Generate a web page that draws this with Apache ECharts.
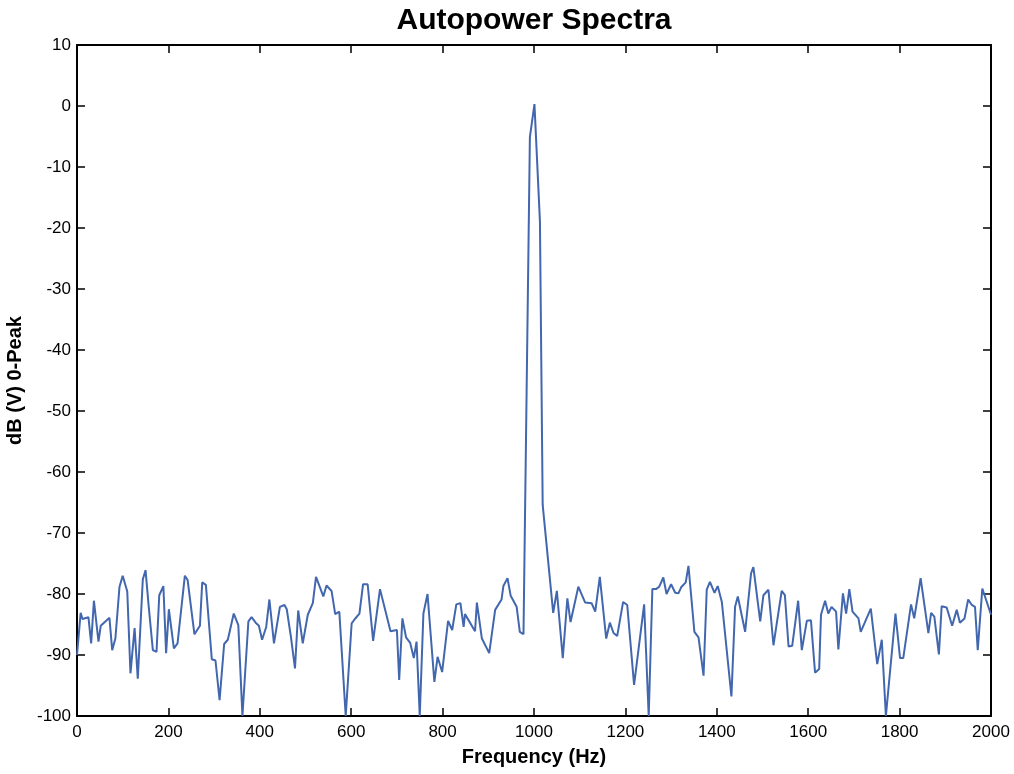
<!DOCTYPE html>
<html>
<head>
<meta charset="utf-8">
<script src="https://cdn.jsdelivr.net/npm/echarts@6/dist/echarts.min.js"></script>
<style>html,body{margin:0;padding:0;background:#fff}#chart{width:1014px;height:774px}</style>
</head>
<body>
<div id="chart"></div>
<script>
const chartTitle = "Autopower Spectra";
const xAxisName = "Frequency (Hz)";
const yAxisName = "dB (V) 0-Peak";

// Frequencies (Hz) of the line's vertices
const freqHz = [
  0, 8, 12, 25, 31, 37, 47, 52, 71, 77, 84, 93, 100, 110, 117, 126, 133, 144, 150, 157, 166, 174, 180, 189, 195, 201, 212, 220, 236, 242,
  257, 269, 274, 282, 295, 303, 312, 322, 330, 343, 353, 362, 375, 382, 391, 398, 405, 414, 421, 431, 444, 454, 459, 468, 477, 484, 494, 505,
  516, 523, 539, 546, 557, 565, 574, 588, 601, 608, 618, 626, 636, 648, 663, 674, 686, 700, 705, 712, 720, 729, 737, 743, 750,
  758, 767, 782, 789, 799, 812, 821, 830, 839, 846, 849, 871, 875, 886, 902, 915, 929, 933, 942, 949, 962, 969, 977,
  991, 1001, 1013, 1019,
  1042, 1050, 1063, 1073, 1080, 1097, 1112, 1126, 1134, 1144, 1158, 1166, 1174, 1182, 1195, 1204, 1219, 1241, 1251,
  1259, 1267, 1274, 1283, 1290, 1300, 1309, 1316, 1322, 1332, 1338, 1351, 1360, 1371, 1378, 1385, 1395, 1402, 1411, 1432, 1440, 1446, 1462, 1475, 1480, 1495, 1502, 1513,
  1524, 1542, 1549, 1557, 1565, 1578, 1586, 1597, 1606, 1615, 1624, 1628, 1637, 1644, 1651, 1661, 1666, 1676, 1683, 1690, 1697, 1710, 1715, 1737, 1751, 1761, 1770,
  1791, 1801, 1808, 1825, 1832, 1846, 1863, 1869, 1876, 1886, 1892, 1903, 1907, 1915, 1925, 1932, 1942, 1950, 1958, 1965, 1971, 1981, 1989, 2000
];

// Autopower level (dB) at each vertex
const levelDb = [
  -90.0, -83.1, -84.1, -83.8, -88.1, -81.1, -87.8, -85.2, -83.9, -89.2, -87.3, -78.8, -77.0, -79.6, -93.0, -85.6, -93.9, -77.6, -76.1, -82.1, -89.2, -89.5, -80.2, -78.7, -89.7, -82.5, -88.9, -88.1, -77.0, -77.7,
  -86.6, -85.2, -78.1, -78.5, -90.7, -90.9, -97.4, -88.2, -87.5, -83.2, -85.1, -100.0, -84.5, -83.8, -84.7, -85.2, -87.5, -85.4, -80.9, -88.1, -82.1, -81.8, -82.5, -87.0, -92.2, -82.7, -88.1, -83.4,
  -81.5, -77.2, -80.4, -78.6, -79.5, -83.3, -82.9, -100.0, -84.8, -84.1, -83.2, -78.4, -78.4, -87.7, -79.2, -82.5, -86.1, -85.9, -94.1, -84.0, -87.1, -88.0, -90.5, -87.8, -100.0,
  -83.2, -80.0, -94.4, -90.3, -92.8, -84.4, -85.9, -81.7, -81.5, -85.4, -83.3, -86.1, -81.4, -87.3, -89.7, -82.6, -80.9, -78.7, -77.4, -80.3, -82.1, -86.2, -86.6,
  -5.1, 0.3, -19.0, -65.4,
  -83.1, -79.5, -90.5, -80.7, -84.6, -78.8, -81.4, -81.5, -82.9, -77.2, -87.3, -84.7, -86.4, -86.9, -81.3, -81.8, -94.9, -81.7, -100.0,
  -79.2, -79.2, -78.8, -77.3, -80.0, -78.4, -79.8, -79.9, -78.9, -78.1, -75.4, -86.2, -87.1, -93.4, -79.3, -78.0, -79.8, -78.7, -81.3, -96.8, -82.1, -80.4, -86.2, -76.6, -75.6, -84.5, -80.2, -79.3,
  -88.4, -79.5, -80.2, -88.6, -88.5, -81.1, -89.2, -84.4, -84.3, -92.9, -92.3, -83.4, -81.1, -83.2, -82.1, -82.9, -89.1, -79.9, -83.2, -79.2, -82.9, -84.0, -86.2, -82.4, -91.5, -87.5, -100.0,
  -83.2, -90.5, -90.5, -81.7, -84.0, -77.4, -86.4, -83.1, -83.7, -89.9, -82.0, -82.2, -82.5, -85.2, -82.6, -84.7, -84.0, -80.9, -81.8, -82.1, -89.2, -79.1, -80.9, -83.4
];

const xTicks = { min: 0, max: 2000, interval: 200 };
const yTicks = { min: -100, max: 10, interval: 10 };

const points = freqHz.map((f, i) => [f, levelDb[i]]);

const FONT = '"Liberation Sans", Arial, sans-serif';
const chart = echarts.init(document.getElementById('chart'), null, { renderer: 'canvas' });

const frameLine = { show: true, onZero: false, lineStyle: { color: '#000', width: 2 } };
const tickIn = { show: true, inside: true, length: 8, lineStyle: { color: '#000', width: 1.5 } };
const plain = v => String(v);

chart.setOption({
  animation: false,
  backgroundColor: '#fff',
  title: {
    text: chartTitle,
    left: 534, top: 6, textAlign: 'center', padding: 0,
    textStyle: { fontFamily: FONT, fontSize: 30, fontWeight: 'bold', color: '#000' }
  },
  grid: { left: 77, right: 23, top: 45, bottom: 58, containLabel: false, outerBoundsMode: 'none' },
  xAxis: [
    {
      type: 'value', position: 'bottom', min: xTicks.min, max: xTicks.max, interval: xTicks.interval,
      name: xAxisName, nameLocation: 'middle', nameGap: 31,
      nameTextStyle: { fontFamily: FONT, fontSize: 20, fontWeight: 'bold', color: '#000' },
      axisLine: frameLine, axisTick: tickIn, splitLine: { show: false },
      axisLabel: { fontFamily: FONT, fontSize: 17, color: '#000', margin: 8, formatter: plain }
    },
    {
      type: 'value', position: 'top', min: xTicks.min, max: xTicks.max, interval: xTicks.interval,
      axisLine: frameLine, axisTick: tickIn, splitLine: { show: false }, axisLabel: { show: false }
    }
  ],
  yAxis: [
    {
      type: 'value', position: 'left', min: yTicks.min, max: yTicks.max, interval: yTicks.interval,
      name: yAxisName, nameLocation: 'middle', nameGap: 52, nameRotate: 90,
      nameTextStyle: { fontFamily: FONT, fontSize: 20, fontWeight: 'bold', color: '#000' },
      axisLine: frameLine, axisTick: tickIn, splitLine: { show: false },
      axisLabel: { fontFamily: FONT, fontSize: 17, color: '#000', margin: 6, formatter: plain }
    },
    {
      type: 'value', position: 'right', min: yTicks.min, max: yTicks.max, interval: yTicks.interval,
      axisLine: frameLine, axisTick: tickIn, splitLine: { show: false }, axisLabel: { show: false }
    }
  ],
  series: [{
    type: 'line',
    data: points,
    xAxisIndex: 0, yAxisIndex: 0,
    showSymbol: false, symbol: 'none',
    clip: true,
    lineStyle: { color: '#4267ae', width: 2 }
  }]
});
</script>
</body>
</html>
